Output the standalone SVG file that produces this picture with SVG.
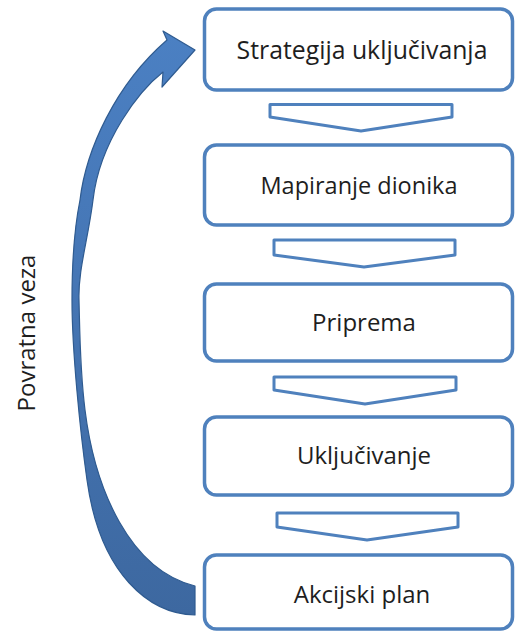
<svg xmlns="http://www.w3.org/2000/svg" width="515" height="632" viewBox="0 0 515 632">
  <defs>
    <linearGradient id="arrowGrad" x1="0" y1="0" x2="0" y2="1">
      <stop offset="0" stop-color="#4b80c3"/>
      <stop offset="0.5" stop-color="#4474b2"/>
      <stop offset="1" stop-color="#3d68a0"/>
    </linearGradient>
  </defs>
  <style>
    .box { fill: #ffffff; stroke: #4f81bd; stroke-width: 3.5; }
    .chev { fill: #ffffff; stroke: #4f81bd; stroke-width: 3; stroke-linejoin: round; }
    .lbl { font-family: "Open Sans", Lato, "Liberation Sans", sans-serif; font-size: 24px; fill: #1e1e1e; text-anchor: middle; }
    .side { font-size: 24px; }
  </style>
  <rect width="515" height="632" fill="#ffffff"/>

  <g id="connectors">
    <path id="feedback-arrow" d="M195,615 C150,614 100,575 87,480 C80,430 72,350 72,300 C72,260 74,230 80,200 C86,150 115,85 167,40 L163,31 L195,50 L162,87 L163,72 C140,90 100,140 93,200 C88,240 78,270 79,300 C80,340 80,370 85,410 C95,490 130,570 195,586 Z" fill="url(#arrowGrad)" stroke="#2f5b90" stroke-width="1.2" stroke-linejoin="round"/>
    <polygon class="chev" points="270,104.5 452,104.5 452,117 361,131 270,117"/>
    <polygon class="chev" points="274,240 455,240 455,255 364,267 274,255"/>
    <polygon class="chev" points="274,377 456,377 456,390 365,404 274,390"/>
    <polygon class="chev" points="277,513 458,513 458,527 367,540 277,527"/>
  </g>

  <g id="node-strategija">
    <rect class="box" x="204.5" y="9" width="308" height="81" rx="12"/>
    <text class="lbl" x="362" y="59" style="font-size:24.8px">Strategija uključivanja</text>
  </g>
  <g id="node-mapiranje">
    <rect class="box" x="204.5" y="145" width="308" height="80" rx="12"/>
    <text class="lbl" x="359" y="194" style="font-size:23.5px">Mapiranje dionika</text>
  </g>
  <g id="node-priprema">
    <rect class="box" x="204.5" y="284" width="308" height="77" rx="12"/>
    <text class="lbl" x="364" y="331">Priprema</text>
  </g>
  <g id="node-ukljucivanje">
    <rect class="box" x="204.5" y="417" width="308" height="78" rx="12"/>
    <text class="lbl" x="364" y="464">Uključivanje</text>
  </g>
  <g id="node-akcijski">
    <rect class="box" x="204.5" y="555" width="308" height="74" rx="12"/>
    <text class="lbl" x="362" y="603">Akcijski plan</text>
  </g>

  <g id="label-povratna">
    <text class="lbl side" transform="translate(35,333) rotate(-90)" x="0" y="0">Povratna veza</text>
  </g>
</svg>
